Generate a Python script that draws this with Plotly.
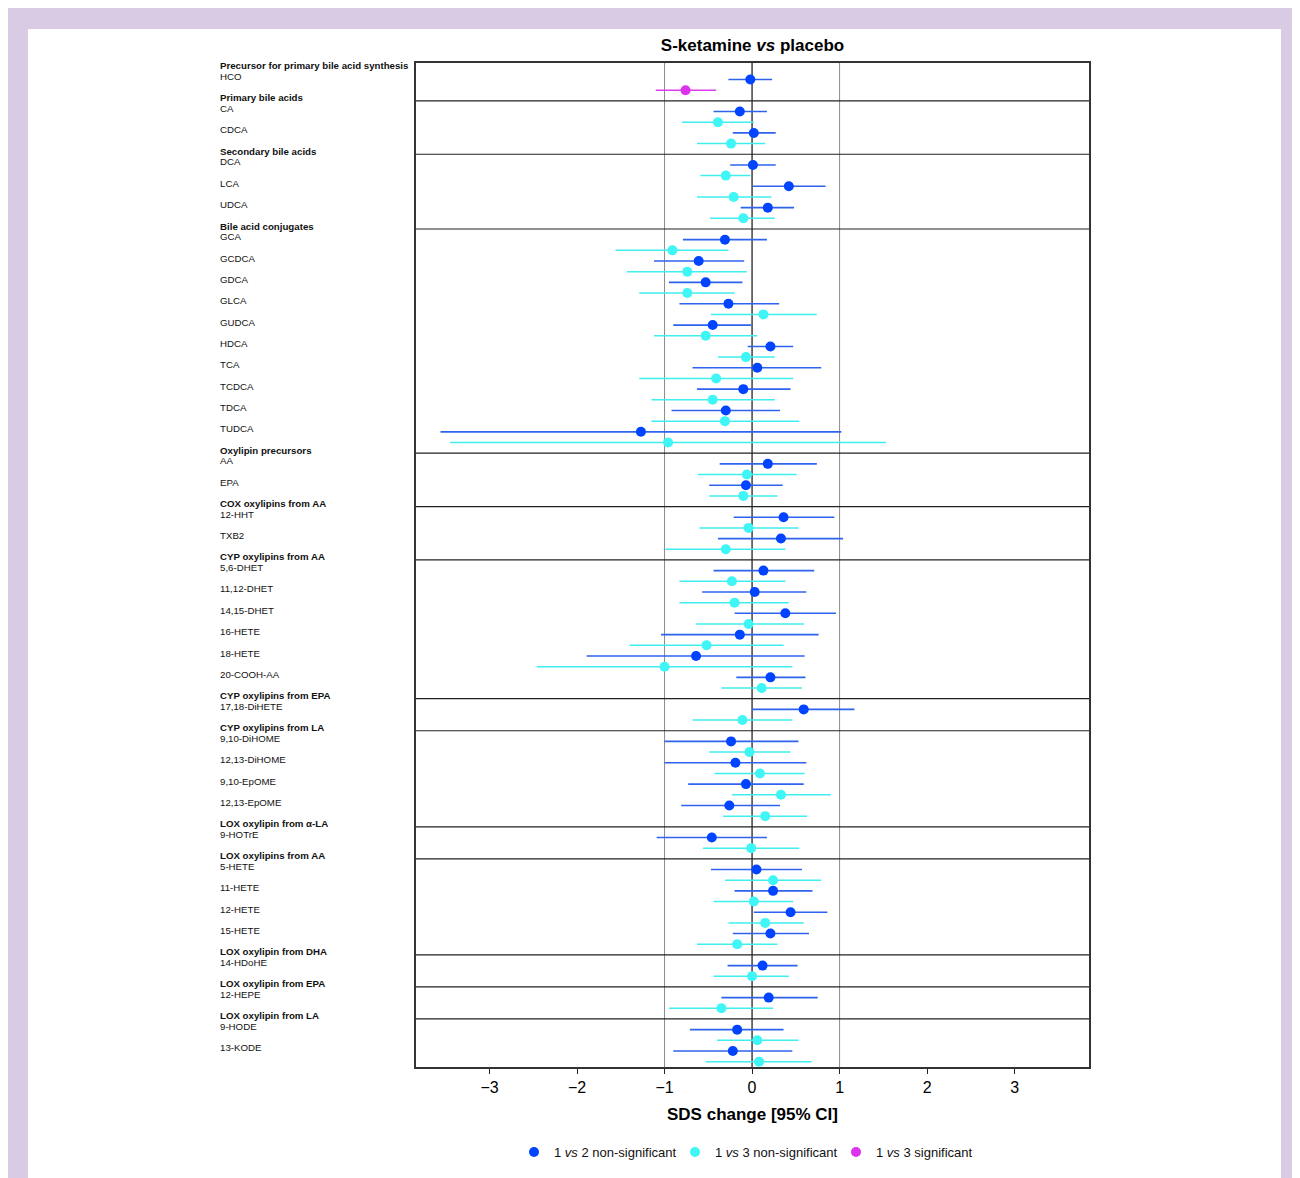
import plotly.graph_objects as go

# ---------------- data ----------------
groups = [
    "Precursor for primary bile acid synthesis", "Primary bile acids", "Secondary bile acids",
    "Bile acid conjugates", "Oxylipin precursors", "COX oxylipins from AA", "CYP oxylipins from AA",
    "CYP oxylipins from EPA", "CYP oxylipins from LA", "LOX oxylipin from α-LA",
    "LOX oxylipins from AA", "LOX oxylipin from DHA", "LOX oxylipin from EPA", "LOX oxylipin from LA",
]
group_members = [
    ["HCO"],
    ["CA", "CDCA"],
    ["DCA", "LCA", "UDCA"],
    ["GCA", "GCDCA", "GDCA", "GLCA", "GUDCA", "HDCA", "TCA", "TCDCA", "TDCA", "TUDCA"],
    ["AA", "EPA"],
    ["12-HHT", "TXB2"],
    ["5,6-DHET", "11,12-DHET", "14,15-DHET", "16-HETE", "18-HETE", "20-COOH-AA"],
    ["17,18-DiHETE"],
    ["9,10-DiHOME", "12,13-DiHOME", "9,10-EpOME", "12,13-EpOME"],
    ["9-HOTrE"],
    ["5-HETE", "11-HETE", "12-HETE", "15-HETE"],
    ["14-HDoHE"],
    ["12-HEPE"],
    ["9-HODE", "13-KODE"],
]

# 1 vs 2 (blue)
est12 = [-0.02, -0.14, 0.02, 0.01, 0.42, 0.18,
         -0.31, -0.61, -0.53, -0.27, -0.45, 0.21, 0.06, -0.10, -0.30, -1.27,
         0.18, -0.07, 0.36, 0.33,
         0.13, 0.03, 0.38, -0.14, -0.64, 0.21,
         0.59, -0.24, -0.19, -0.07, -0.26, -0.46,
         0.05, 0.24, 0.44, 0.21, 0.12, 0.19, -0.17, -0.22]
lo12 = [-0.27, -0.44, -0.22, -0.25, 0.01, -0.13,
        -0.79, -1.12, -0.95, -0.83, -0.90, -0.05, -0.68, -0.63, -0.92, -3.56,
        -0.37, -0.49, -0.21, -0.39,
        -0.44, -0.57, -0.20, -1.04, -1.89, -0.18,
        0.00, -1.00, -1.00, -0.73, -0.81, -1.09,
        -0.47, -0.20, 0.02, -0.22, -0.28, -0.35, -0.71, -0.90]
hi12 = [0.23, 0.17, 0.27, 0.27, 0.84, 0.48,
        0.17, -0.09, -0.11, 0.31, -0.01, 0.47, 0.79, 0.44, 0.32, 1.02,
        0.74, 0.35, 0.94, 1.04,
        0.71, 0.62, 0.96, 0.76, 0.60, 0.61,
        1.17, 0.53, 0.62, 0.59, 0.32, 0.17,
        0.57, 0.69, 0.86, 0.65, 0.52, 0.75, 0.36, 0.46]

# 1 vs 3 (cyan / magenta when significant)
est13 = [-0.76, -0.39, -0.24, -0.30, -0.21, -0.10,
         -0.91, -0.74, -0.74, 0.13, -0.53, -0.07, -0.41, -0.45, -0.31, -0.96,
         -0.06, -0.10, -0.04, -0.30,
         -0.23, -0.20, -0.04, -0.52, -1.00, 0.11,
         -0.11, -0.03, 0.09, 0.33, 0.15, -0.01,
         0.24, 0.02, 0.15, -0.17, 0.00, -0.35, 0.06, 0.08]
lo13 = [-1.10, -0.80, -0.63, -0.59, -0.63, -0.48,
        -1.56, -1.43, -1.29, -0.47, -1.12, -0.39, -1.29, -1.15, -1.15, -3.45,
        -0.62, -0.49, -0.60, -0.99,
        -0.83, -0.83, -0.64, -1.40, -2.46, -0.35,
        -0.68, -0.49, -0.43, -0.23, -0.33, -0.56,
        -0.31, -0.44, -0.27, -0.63, -0.44, -0.95, -0.40, -0.53]
hi13 = [-0.41, 0.02, 0.15, -0.02, 0.22, 0.26,
        -0.27, -0.06, -0.20, 0.74, 0.06, 0.26, 0.47, 0.26, 0.54, 1.53,
        0.51, 0.29, 0.53, 0.38,
        0.38, 0.42, 0.59, 0.36, 0.46, 0.57,
        0.46, 0.44, 0.60, 0.90, 0.63, 0.54,
        0.79, 0.47, 0.59, 0.29, 0.42, 0.24, 0.53, 0.68]
sig13 = [True] + [False] * 39

xticks = [-3, -2, -1, 0, 1, 2, 3]

# ---------------- layout helpers ----------------
OFF = 8  # page body margin of the browser
W, H = 1300 - OFF, 1178 - OFF
L, T = 416 - OFF, 63 - OFF
R = W - (1089 - OFF)
B = H - (1068 - OFF)
PW, PH = W - L - R, H - T - B

def px_x(p):  # screenshot pixel -> paper x
    return (p - OFF - L) / PW

def px_y(p):  # screenshot pixel -> paper y
    return (H - B - (p - OFF)) / PH

# row positions derived from group structure
header_rows, blue_rows, cyan_rows, names = [], [], [], []
r = 0
for g, mem in zip(groups, group_members):
    header_rows.append(r)
    for k, m in enumerate(mem):
        blue_rows.append(-(r + 1 + 2 * k))
        cyan_rows.append(-(r + 2 + 2 * k))
        names.append(m)
    r = r + 1 + 2 * len(mem)
last_row = r - 1

FONT = "Liberation Sans, Arial, Helvetica, sans-serif"
BLUE, BLUE_L = "#0044ff", "#2f63ee"
CYAN, CYAN_L = "#3ff5f5", "#40eeee"
MAG, MAG_L = "#dd33ee", "#dd3cf0"

fig = go.Figure()

fig.add_trace(go.Scatter(
    x=est12, y=blue_rows, mode="markers", name="1 <i>vs</i> 2 non-significant",
    marker=dict(color=BLUE, size=10),
    error_x=dict(type="data", symmetric=False,
                 array=[h - e for h, e in zip(hi12, est12)],
                 arrayminus=[e - l for e, l in zip(est12, lo12)],
                 color=BLUE_L, thickness=1.6, width=0),
    hoverinfo="skip",
))

ns = [i for i, s in enumerate(sig13) if not s]
sg = [i for i, s in enumerate(sig13) if s]
for idx, nm, mc, lc in [(ns, "1 <i>vs</i> 3 non-significant", CYAN, CYAN_L),
                        (sg, "1 <i>vs</i> 3 significant", MAG, MAG_L)]:
    fig.add_trace(go.Scatter(
        x=[est13[i] for i in idx], y=[cyan_rows[i] for i in idx], mode="markers", name=nm,
        marker=dict(color=mc, size=10),
        error_x=dict(type="data", symmetric=False,
                     array=[hi13[i] - est13[i] for i in idx],
                     arrayminus=[est13[i] - lo13[i] for i in idx],
                     color=lc, thickness=1.5, width=0),
        hoverinfo="skip",
    ))

shapes = [
    dict(type="rect", xref="paper", yref="paper", x0=px_x(0), x1=px_x(1310), y0=px_y(1190), y1=px_y(5),
         fillcolor="#d9cbe4", line=dict(width=0), layer="below"),
    dict(type="rect", xref="paper", yref="paper", x0=px_x(28), x1=px_x(1281), y0=px_y(1190), y1=px_y(29),
         fillcolor="white", line=dict(width=0), layer="below"),
]
for v in [-1, 1]:
    shapes.append(dict(type="line", xref="x", yref="paper", x0=v, x1=v, y0=0, y1=1,
                       line=dict(color="#8a8a8a", width=1), layer="below"))
shapes.append(dict(type="line", xref="x", yref="paper", x0=0, x1=0, y0=0, y1=1,
                   line=dict(color="#111111", width=1.2), layer="below"))
for hr in header_rows[1:]:
    shapes.append(dict(type="line", xref="paper", yref="y", x0=0, x1=1, y0=-hr, y1=-hr,
                       line=dict(color="#222222", width=1.2), layer="below"))

annotations = []
lab_x = px_x(218)
for g, hr in zip(groups, header_rows):
    annotations.append(dict(x=lab_x, xref="paper", y=-hr, yref="y", text="<b>" + g + "</b>",
                            showarrow=False, xanchor="left", yanchor="middle", yshift=3,
                            font=dict(family=FONT, size=9.7, color="#111111")))
for nm, br in zip(names, blue_rows):
    annotations.append(dict(x=lab_x, xref="paper", y=br, yref="y", text=nm,
                            showarrow=False, xanchor="left", yanchor="middle", yshift=3,
                            font=dict(family=FONT, size=9.7, color="#111111")))

fig.update_layout(
    width=W, height=H,
    margin=dict(l=L, r=R, t=T, b=B, pad=0),
    paper_bgcolor="white", plot_bgcolor="white",
    font=dict(family=FONT, color="black"),
    title=dict(text="<b>S-ketamine <i>vs</i> placebo</b>", x=0.5, xref="paper",
               y=1 - (45 - OFF) / H, yref="container", xanchor="center", yanchor="middle",
               font=dict(family=FONT, size=17, color="black")),
    xaxis=dict(range=[-3.84, 3.85], tickvals=xticks, ticks="outside", ticklen=5,
               tickcolor="#222", tickfont=dict(family=FONT, size=16, color="black"),
               showgrid=False, zeroline=False, showline=True, mirror=True,
               linecolor="#333", linewidth=1.5,
               title=dict(text="<b>SDS change [95% CI]</b>", standoff=13,
                          font=dict(family=FONT, size=17, color="black"))),
    yaxis=dict(range=[-(last_row + 0.5), 0.55], showticklabels=False, ticks="",
               showgrid=False, zeroline=False, showline=True, mirror=True,
               linecolor="#333", linewidth=1.5),
    legend=dict(orientation="h", x=px_x(514), xanchor="left", y=px_y(1152), yanchor="middle",
                font=dict(family=FONT, size=13, color="#111"), bgcolor="rgba(0,0,0,0)",
                itemwidth=30, entrywidth=116, entrywidthmode="pixels"),
    shapes=shapes,
    annotations=annotations,
    showlegend=True,
)

fig.write_html("out.html")
